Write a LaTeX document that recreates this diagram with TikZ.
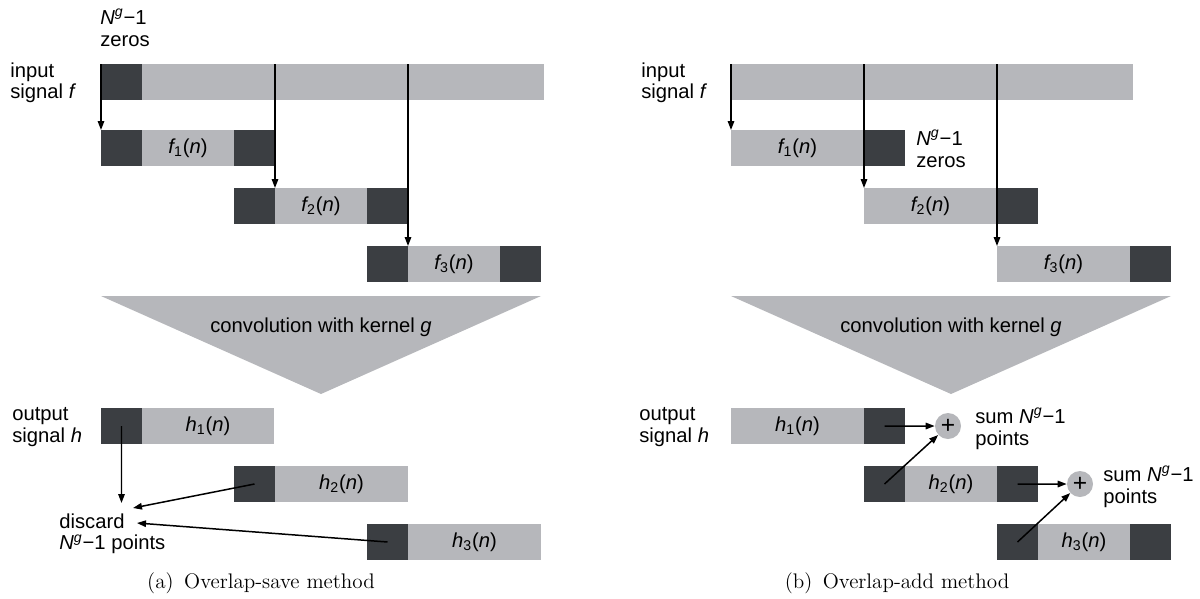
\documentclass[tikz,border=0pt]{standalone}
\usepackage{fontspec}
\newfontfamily\figfont{Liberation Sans}
\usetikzlibrary{arrows.meta}
\definecolor{darkbar}{RGB}{59,62,66}
\definecolor{lightbar}{RGB}{182,183,187}
\newcommand{\Ngm}{{\itshape N}\textsuperscript{\itshape g}−1}
\newcommand{\seq}[2]{{\itshape #1}\textsubscript{#2}({\itshape n})}

\begin{document}
\begin{tikzpicture}[x=0.2mm, y=-0.2mm,
    seg/.style ={inner sep=0, outer sep=0, minimum height=7.2mm, anchor=north west,
                 font=\figfont\fontsize{11.5}{12.5}\selectfont},
    zerobox/.style ={seg, fill=darkbar, minimum width=8.2mm},
    sigbox/.style ={seg, fill=lightbar},
    txt/.style ={inner sep=0, anchor=north west, align=left,
                 font=\figfont\fontsize{11.5}{12.5}\selectfont},
    arr/.style ={-{Triangle[length=1.8mm,width=1.3mm]}, line width=0.85pt},
    sumnode/.style ={circle, fill=lightbar, minimum size=5.2mm, inner sep=0,
                 font=\figfont\fontsize{14}{14}\selectfont},
    subcap/.style ={anchor=base, font=\fontsize{12}{14}\selectfont}]
   \useasboundingbox (0,0) rectangle (1200,598);

   % (a) overlap-save
   \node[txt] (zerosL) at (100,9) {\Ngm\\zeros};
   \node[txt] (inL) at (10,62) {input\\signal {\itshape f}};
   \node[zerobox] (inLa) at (101,64) {};
   \node[sigbox, minimum width=80.4mm] (inLb) at (142,64) {};

   \node[zerobox] (fa1) at (101,130) {};
   \node[sigbox, minimum width=18.4mm] (fb1) at (142,130) {\seq{f}{1}};
   \node[zerobox] (fc1) at (234,130) {};
   \node[zerobox] (fa2) at (234,188) {};
   \node[sigbox, minimum width=18.4mm] (fb2) at (275,188) {\seq{f}{2}};
   \node[zerobox] (fc2) at (367,188) {};
   \node[zerobox] (fa3) at (367,246) {};
   \node[sigbox, minimum width=18.4mm] (fb3) at (408,246) {\seq{f}{3}};
   \node[zerobox] (fc3) at (500,246) {};

   \draw[arr] (inLa.north west) to (fa1.north west);
   \draw[arr] (inLb.north -| fa2.north east) to (fa2.north east);
   \draw[arr] (inLb.north -| fa3.north east) to (fa3.north east);

   \fill[lightbar] (101,296) -- (541,296) -- (321,394) -- cycle;
   \node[txt, anchor=base] (convL) at (321,332) {convolution with kernel {\itshape g}};

   \node[txt] (outL) at (12,407) {output\\signal {\itshape h}};
   \node[zerobox] (ha1) at (101,408) {};
   \node[sigbox, minimum width=26.4mm] (hb1) at (142,408) {\seq{h}{1}};
   \node[zerobox] (ha2) at (234,466) {};
   \node[sigbox, minimum width=26.6mm] (hb2) at (275,466) {\seq{h}{2}};
   \node[zerobox] (ha3) at (367,524) {};
   \node[sigbox, minimum width=26.6mm] (hb3) at (408,524) {\seq{h}{3}};

   \node[txt] (discard) at (59,513) {discard\\\Ngm{} points};
   \coordinate (d1) at (121.5,503);
   \coordinate (d2) at (133,508);
   \coordinate (d3) at (137,523);
   \draw[arr] (ha1.center) to (d1);
   \draw[arr] (ha2.center) to (d2);
   \draw[arr] (ha3.center) to (d3);

   \node[subcap] (capL) at (261,588) {(a)\enspace Overlap-save method};

   % (b) overlap-add
   \node[txt] (inR) at (641,62) {input\\signal {\itshape f}};
   \node[sigbox, minimum width=80.4mm] (inR) at (731,64) {};

   \node[sigbox, minimum width=26.6mm] (gb1) at (731,130) {\seq{f}{1}};
   \node[zerobox] (gc1) at (864,130) {};
   \node[txt] (zerosR) at (916,130) {\Ngm\\zeros};
   \node[sigbox, minimum width=26.6mm] (gb2) at (864,188) {\seq{f}{2}};
   \node[zerobox] (gc2) at (997,188) {};
   \node[sigbox, minimum width=26.6mm] (gb3) at (997,246) {\seq{f}{3}};
   \node[zerobox] (gc3) at (1130,246) {};

   \draw[arr] (inR.north west) to (gb1.north west);
   \draw[arr] (inR.north -| gb2.north west) to (gb2.north west);
   \draw[arr] (inR.north -| gb3.north west) to (gb3.north west);

   \fill[lightbar] (731,296) -- (1171,296) -- (951,394) -- cycle;
   \node[txt, anchor=base] (convR) at (951,332) {convolution with kernel {\itshape g}};

   \node[txt] (outR) at (639,407) {output\\signal {\itshape h}};
   \node[sigbox, minimum width=26.6mm] (kb1) at (731,408) {\seq{h}{1}};
   \node[zerobox] (kc1) at (864,408) {};
   \node[zerobox] (ka2) at (864,466) {};
   \node[sigbox, minimum width=18.4mm] (kb2) at (905,466) {\seq{h}{2}};
   \node[zerobox] (kc2) at (997,466) {};
   \node[zerobox] (ka3) at (997,524) {};
   \node[sigbox, minimum width=18.4mm] (kb3) at (1038,524) {\seq{h}{3}};
   \node[zerobox] (kc3) at (1130,524) {};

   \node[sumnode] (s1) at (948,426) {+};
   \node[sumnode] (s2) at (1080,484) {+};
   \node[txt] (sum1) at (975,408) {sum \Ngm\\points};
   \node[txt] (sum2) at (1103,466) {sum \Ngm\\points};

   \draw[arr] (kc1.center) to (s1);
   \draw[arr] (ka2.center) to (s1);
   \draw[arr] (kc2.center) to (s2);
   \draw[arr] (ka3.center) to (s2);

   \node[subcap] (capR) at (897,588) {(b)\enspace Overlap-add method};
\end{tikzpicture}
\end{document}
